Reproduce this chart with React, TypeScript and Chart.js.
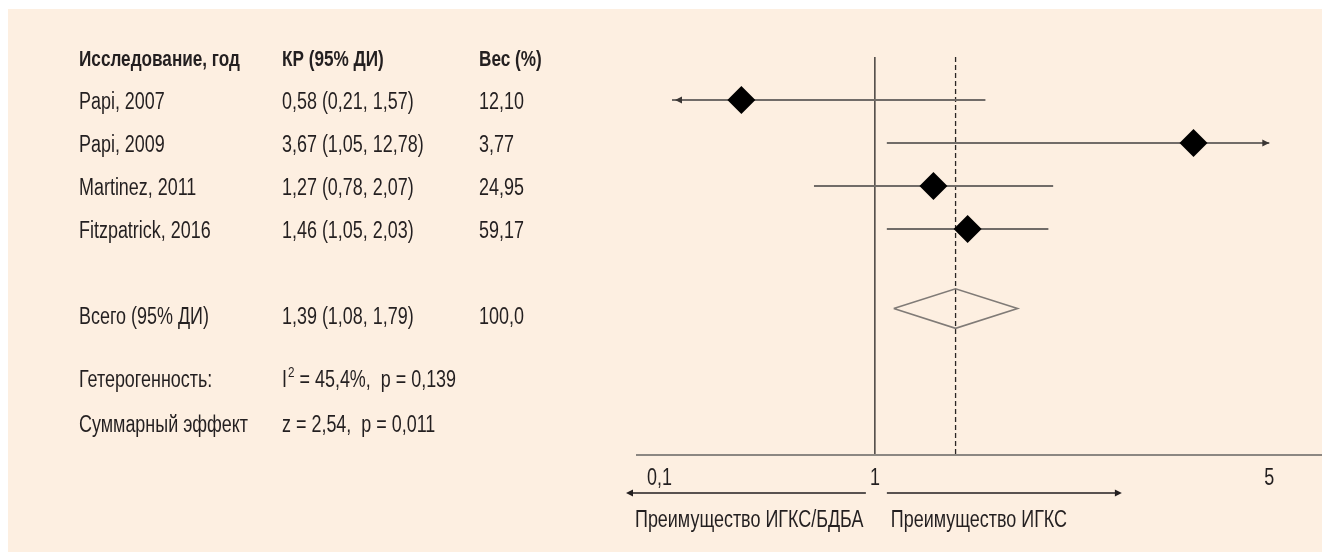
import { useEffect, useRef } from 'react';
import { Chart, registerables } from 'chart.js';

Chart.register(...registerables);

// ---------- data ----------
const headers = ['Исследование, год', 'КР (95% ДИ)', 'Вес (%)'];
const studies = ['Papi, 2007', 'Papi, 2009', 'Martinez, 2011', 'Fitzpatrick, 2016'];
const oddsRatios = [0.58, 3.67, 1.27, 1.46];
const ciLow = [0.21, 1.05, 0.78, 1.05];
const ciHigh = [1.57, 12.78, 2.07, 2.03];
const weights = [12.1, 3.77, 24.95, 59.17];

const totalLabel = 'Всего (95% ДИ)';
const totalOR = 1.39;
const totalLow = 1.08;
const totalHigh = 1.79;
const totalWeight = 100.0;

const heterogeneityLabel = 'Гетерогенность:';
const i2Value = 45.4;
const heterogeneityP = 0.139;
const effectLabel = 'Суммарный эффект';
const zValue = 2.54;
const effectP = 0.011;

const axisTickValues = [0.1, 1, 5];
const axisTickLabels = ['0,1', '1', '5'];
const favoursLabels = ['Преимущество ИГКС/БДБА', 'Преимущество ИГКС'];

// ---------- layout / style ----------
const X_MIN = 0.437;
const X_MAX = 6.2;
const DISPLAY_MAX = 5;
const Y_MAX = 9.256;
const ROW_HEADER = 0;
const ROW_TOTAL = 6;
const ROW_HET = 7.45;
const ROW_EFF = 8.5;
const SUMMARY_MARK_ROW = 5.85;
const SUMMARY_HALF_HEIGHT = 0.46;
const COL_X = [71, 274, 471];
const FONT_FAMILY = '"Liberation Sans", Arial, sans-serif';
const FONT = `23px ${FONT_FAMILY}`;
const FONT_BOLD = `bold 22px ${FONT_FAMILY}`;
const FONT_SUP = `15px ${FONT_FAMILY}`;
const SX = 0.78; // horizontal condensing, to imitate a narrow typeface
const TEXT = '#231f20';
const BG = '#fdefe1';

const fmt = (v: number, d = 2) => v.toFixed(d).replace('.', ',');

function drawText(
  ctx: CanvasRenderingContext2D,
  text: string,
  x: number,
  y: number,
  font: string,
  align: 'left' | 'center' | 'right' = 'left'
) {
  ctx.font = font;
  const w = ctx.measureText(text).width * SX;
  let x0 = x;
  if (align === 'right') x0 = x - w;
  else if (align === 'center') x0 = x - w / 2;
  ctx.save();
  ctx.translate(x0, y);
  ctx.scale(SX, 1);
  ctx.textAlign = 'left';
  ctx.textBaseline = 'middle';
  ctx.fillText(text, 0, 0);
  ctx.restore();
  return w;
}

function arrowHead(ctx: CanvasRenderingContext2D, x: number, y: number, dir: number, len = 7, half = 3.5) {
  ctx.beginPath();
  ctx.moveTo(x, y);
  ctx.lineTo(x - dir * len, y - half);
  ctx.lineTo(x - dir * len, y + half);
  ctx.closePath();
  ctx.fill();
}

const decorPlugin = {
  id: 'forestDecor',
  afterDraw(chart: any) {
    const { ctx, chartArea, scales } = chart;
    const xs = scales.x;
    const ys = scales.y;
    const rowY = (r: number) => ys.getPixelForValue(r) + 3;
    ctx.save();

    // x axis line
    ctx.strokeStyle = '#8c8782';
    ctx.lineWidth = 2;
    ctx.beginPath();
    ctx.moveTo(chartArea.left - 36, chartArea.bottom);
    ctx.lineTo(chart.width, chartArea.bottom);
    ctx.stroke();

    // arrowheads for clipped confidence intervals
    ctx.fillStyle = '#3a3634';
    studies.forEach((_, i) => {
      const y = ys.getPixelForValue(i + 1);
      if (ciLow[i] < X_MIN) arrowHead(ctx, xs.getPixelForValue(X_MIN) + 3, y, -1);
      if (ciHigh[i] > DISPLAY_MAX) arrowHead(ctx, xs.getPixelForValue(DISPLAY_MAX), y, 1);
    });

    // table text
    ctx.fillStyle = TEXT;
    headers.forEach((h, c) => drawText(ctx, h, COL_X[c], rowY(ROW_HEADER), FONT_BOLD));
    studies.forEach((s, i) => {
      const y = rowY(i + 1);
      drawText(ctx, s, COL_X[0], y, FONT);
      drawText(ctx, `${fmt(oddsRatios[i])} (${fmt(ciLow[i])}, ${fmt(ciHigh[i])})`, COL_X[1], y, FONT);
      drawText(ctx, fmt(weights[i]), COL_X[2], y, FONT);
    });
    const yt = rowY(ROW_TOTAL);
    drawText(ctx, totalLabel, COL_X[0], yt, FONT);
    drawText(ctx, `${fmt(totalOR)} (${fmt(totalLow)}, ${fmt(totalHigh)})`, COL_X[1], yt, FONT);
    drawText(ctx, fmt(totalWeight, 1), COL_X[2], yt, FONT);

    const yh = rowY(ROW_HET);
    drawText(ctx, heterogeneityLabel, COL_X[0], yh, FONT);
    let xx = COL_X[1] + drawText(ctx, 'I', COL_X[1], yh, FONT) + 1;
    xx += drawText(ctx, '2', xx, yh - 7, FONT_SUP);
    drawText(ctx, ` = ${fmt(i2Value, 1)}%,  p = ${fmt(heterogeneityP, 3)}`, xx, yh, FONT);

    const ye = rowY(ROW_EFF);
    drawText(ctx, effectLabel, COL_X[0], ye, FONT);
    drawText(ctx, `z = ${fmt(zValue)},  p = ${fmt(effectP, 3)}`, COL_X[1], ye, FONT);

    // axis tick labels
    const tickY = chartArea.bottom + 24;
    axisTickValues.forEach((v, i) => {
      if (v < X_MIN) drawText(ctx, axisTickLabels[i], xs.getPixelForValue(X_MIN), tickY, FONT, 'right');
      else drawText(ctx, axisTickLabels[i], xs.getPixelForValue(v), tickY, FONT, 'center');
    });

    // favours arrows
    const px1 = xs.getPixelForValue(1);
    const ay = chartArea.bottom + 38;
    ctx.strokeStyle = TEXT;
    ctx.lineWidth = 1.5;
    ctx.beginPath();
    ctx.moveTo(px1 - 9, ay);
    ctx.lineTo(chartArea.left - 44, ay);
    ctx.moveTo(px1 + 12, ay);
    ctx.lineTo(px1 + 245, ay);
    ctx.stroke();
    arrowHead(ctx, chartArea.left - 46, ay, -1, 7, 3.5);
    arrowHead(ctx, px1 + 247, ay, 1, 7, 3.5);

    const ly = chartArea.bottom + 66;
    drawText(ctx, favoursLabels[0], chartArea.left - 37, ly, FONT);
    drawText(ctx, favoursLabels[1], px1 + 16, ly, FONT);

    ctx.restore();
  },
};

export default function App() {
  const ref = useRef<HTMLCanvasElement | null>(null);

  useEffect(() => {
    if (!ref.current) return;
    const ciDatasets = studies.map((s, i) => ({
      label: `${s} CI`,
      data: [
        { x: Math.max(ciLow[i], X_MIN), y: i + 1 },
        { x: Math.min(ciHigh[i], DISPLAY_MAX), y: i + 1 },
      ],
      showLine: true,
      borderColor: '#716c68',
      borderWidth: 2,
      pointRadius: 0,
      order: 2,
    }));

    const chart = new Chart(ref.current, {
      type: 'scatter',
      data: {
        datasets: [
          {
            label: 'Studies',
            data: studies.map((_, i) => ({ x: oddsRatios[i], y: i + 1 })),
            pointStyle: 'rectRot',
            pointRadius: 14,
            backgroundColor: '#000000',
            borderColor: '#000000',
            borderWidth: 0,
            order: 0,
          },
          ...ciDatasets,
          {
            label: 'Summary',
            data: [
              { x: totalLow, y: SUMMARY_MARK_ROW },
              { x: totalOR, y: SUMMARY_MARK_ROW - SUMMARY_HALF_HEIGHT },
              { x: totalHigh, y: SUMMARY_MARK_ROW },
              { x: totalOR, y: SUMMARY_MARK_ROW + SUMMARY_HALF_HEIGHT },
              { x: totalLow, y: SUMMARY_MARK_ROW },
            ],
            showLine: true,
            borderColor: '#807b77',
            borderWidth: 1.6,
            pointRadius: 0,
            tension: 0,
            order: 1,
          },
          {
            label: 'No effect',
            data: [
              { x: 1, y: 0 },
              { x: 1, y: Y_MAX },
            ],
            showLine: true,
            borderColor: '#2a2624',
            borderWidth: 1.3,
            pointRadius: 0,
            order: 3,
          },
          {
            label: 'Overall',
            data: [
              { x: totalOR, y: 0 },
              { x: totalOR, y: Y_MAX },
            ],
            showLine: true,
            borderColor: '#2a2624',
            borderWidth: 1.3,
            borderDash: [5, 3],
            pointRadius: 0,
            order: 3,
          },
        ],
      },
      options: {
        animation: false,
        responsive: false,
        devicePixelRatio: 1,
        layout: { autoPadding: false, padding: { left: 664, top: 48, right: 0, bottom: 97 } },
        plugins: { legend: { display: false }, tooltip: { enabled: false } },
        scales: {
          x: { type: 'logarithmic', min: X_MIN, max: X_MAX, display: false },
          y: { type: 'linear', min: 0, max: Y_MAX, reverse: true, display: false },
        },
      },
      plugins: [decorPlugin],
    });
    return () => chart.destroy();
  }, []);

  return (
    <div style={{ position: 'fixed', left: 8, top: 9, width: 1314, height: 543, background: BG }}>
      <canvas ref={ref} width={1314} height={543} style={{ display: 'block' }} />
    </div>
  );
}
